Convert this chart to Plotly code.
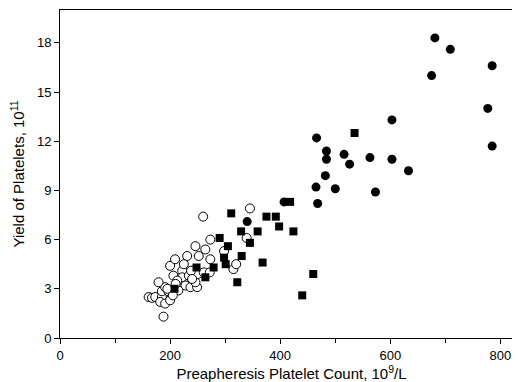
import plotly.graph_objects as go

open_x = [161, 167, 173, 185, 182, 191, 188, 200, 185, 197, 191, 179, 206, 200, 209, 222, 222, 234, 228, 237,
          249, 246, 250, 238, 231, 252, 246, 261, 272, 273, 264, 273, 260, 298, 315, 320, 339, 345, 213, 215,
          205, 240, 225, 195, 210]
open_y = [2.5, 2.45, 2.5, 2.5, 2.2, 2.1, 1.3, 2.3, 2.85, 2.85, 3.1, 3.4, 3.8, 4.4, 4.8, 4.1, 3.7, 3.8, 3.2, 3.1,
          3.1, 3.4, 3.9, 4.1, 5.0, 5.0, 5.6, 4.0, 4.0, 4.8, 5.4, 6.0, 7.4, 5.3, 4.2, 4.5, 6.1, 7.9, 3.5, 2.9,
          2.6, 3.6, 4.5, 3.0, 3.3]

sq_x = [208, 248, 264, 279, 298, 301, 305, 290, 311, 322, 329, 330, 345, 359, 368, 375, 392, 398, 418, 424,
        440, 460, 535]
sq_y = [3.0, 4.3, 3.7, 4.3, 4.9, 4.5, 5.6, 6.1, 7.6, 3.4, 6.5, 5.0, 5.8, 6.5, 4.6, 7.4, 7.4, 6.8, 8.3, 6.5,
        2.6, 3.9, 12.5]

fc_x = [340, 407, 465, 466, 468, 482, 484, 484, 500, 516, 526, 563, 573, 603, 603, 633, 675, 681, 709, 777,
        785, 785]
fc_y = [7.1, 8.3, 9.2, 12.2, 8.2, 9.9, 11.4, 10.9, 9.1, 11.2, 10.6, 11.0, 8.9, 13.3, 10.9, 10.2, 16.0, 18.3,
        17.6, 14.0, 16.6, 11.7]

x_ticks = [0, 200, 400, 600, 800]
y_ticks = [0, 3, 6, 9, 12, 15, 18]

fig = go.Figure()
fig.add_trace(go.Scatter(x=open_x, y=open_y, mode="markers",
                         marker=dict(symbol="circle", size=9, color="white",
                                     line=dict(color="black", width=1)), showlegend=False))
fig.add_trace(go.Scatter(x=sq_x, y=sq_y, mode="markers",
                         marker=dict(symbol="square", size=8, color="black",
                                     line=dict(color="black", width=0)), showlegend=False))
fig.add_trace(go.Scatter(x=fc_x, y=fc_y, mode="markers",
                         marker=dict(symbol="circle", size=9, color="black",
                                     line=dict(color="black", width=0)), showlegend=False))

font = dict(family="Liberation Sans, Arial, sans-serif", color="black")
fig.update_layout(
    width=520, height=382,
    margin=dict(l=52, r=5, t=2, b=52),
    paper_bgcolor="white", plot_bgcolor="white",
    font=dict(**font, size=13),
    xaxis=dict(range=[0, 841], tickvals=x_ticks, ticks="outside", ticklen=5, tickcolor="black",
               showline=True, linecolor="black", linewidth=1, mirror=True, showgrid=False, zeroline=False,
               minor=dict(dtick=100, tick0=0, ticks="outside", ticklen=4, tickcolor="black"),
               tickfont=dict(size=13),
               title=dict(text="Preapheresis Platelet Count, 10<sup>9</sup>/L", font=dict(size=15), standoff=4)),
    yaxis=dict(range=[0, 20], tickvals=y_ticks, ticks="outside", ticklen=5, tickcolor="black",
               showline=True, linecolor="black", linewidth=1, mirror=True, showgrid=False, zeroline=False,
               tickfont=dict(size=13),
               title=dict(text="Yield of Platelets, 10<sup>11</sup>", font=dict(size=15), standoff=8)),
)

fig.write_html("out.html")
